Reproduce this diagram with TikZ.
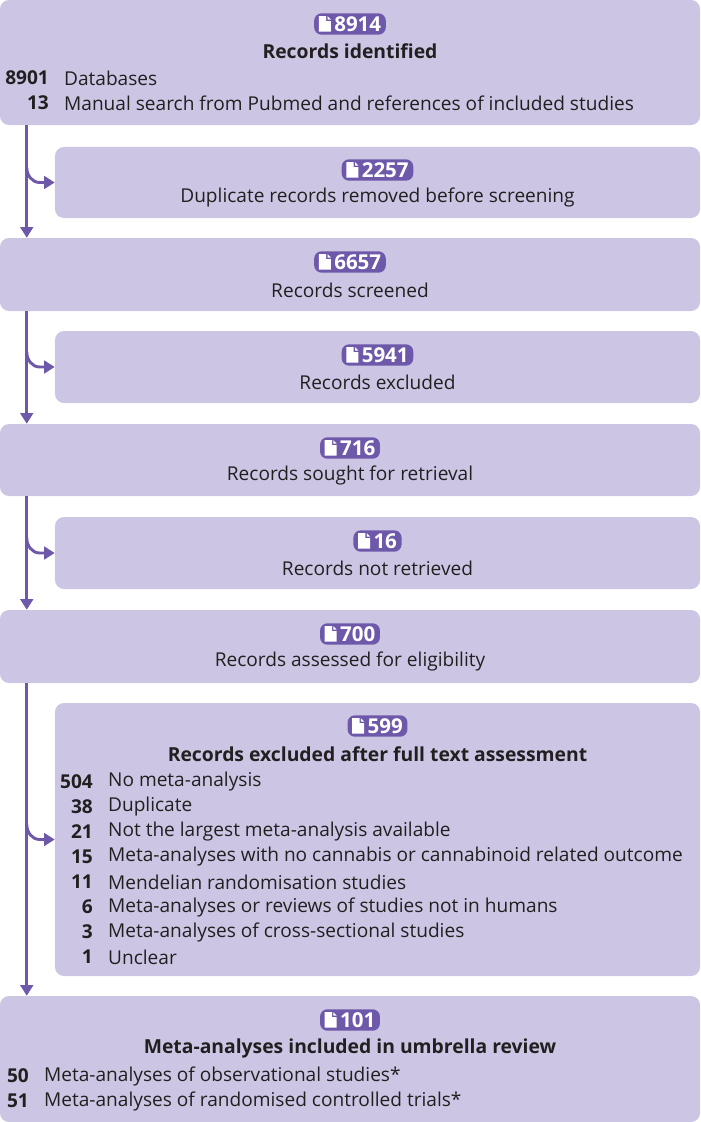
\documentclass[tikz,border=0pt]{standalone}
\usepackage{fontspec}
\setmainfont{Open Sans}
\usetikzlibrary{calc,arrows.meta}
\definecolor{boxfill}{RGB}{204,198,228}
\definecolor{badgefill}{RGB}{110,88,170}
\definecolor{txt}{RGB}{35,31,32}
\newsavebox{\docbox}
\savebox{\docbox}{\tikz[baseline=0pt]{\fill[white] (0,0) -- (0,0.46) -- (0.22,0.46) -- (0.22,0.31) -- (0.36,0.31) -- (0.36,0) -- cycle; \fill[white] (0.26,0.46) -- (0.36,0.36) -- (0.26,0.36) -- cycle;}}
\newcommand{\docicon}{\usebox{\docbox}}
\tikzset{
  mainbox/.style={fill=boxfill, rounded corners=0.27cm, minimum width=21cm, inner sep=0pt},
  sidebox/.style={fill=boxfill, rounded corners=0.27cm, minimum width=19.35cm, inner sep=0pt},
  badge/.style={fill=badgefill, text=white, rounded corners=0.22cm, inner xsep=4pt, inner ysep=2.5pt, font=\fontsize{17.5}{18}\selectfont\bfseries},
  title/.style={text=txt, font=\fontsize{16.5}{20}\selectfont\bfseries},
  plain/.style={text=txt, font=\fontsize{16.3}{20}\selectfont},
  num/.style={text=txt, anchor=east, font=\fontsize{16.3}{20}\selectfont\bfseries},
  item/.style={text=txt, anchor=west, font=\fontsize{16.3}{20}\selectfont},
  flow/.style={draw=badgefill, line width=2.5pt, -{Triangle[length=0.32cm,width=0.38cm]}}
}
\begin{document}
\begin{tikzpicture}[x=0.03cm, y=-0.03cm]
\useasboundingbox (0,0) rectangle (700,1122);

% Boxes
\node[mainbox, minimum height=3.75cm] (ident) at (350,62.5) {};
\node[sidebox, minimum height=2.13cm] (dupl) at (377.5,182.5) {};
\node[mainbox, minimum height=2.19cm] (screen) at (350,274.5) {};
\node[sidebox, minimum height=2.16cm] (excl) at (377.5,367) {};
\node[mainbox, minimum height=2.16cm] (sought) at (350,460) {};
\node[sidebox, minimum height=2.16cm] (notret) at (377.5,553) {};
\node[mainbox, minimum height=2.19cm] (assess) at (350,646.5) {};
\node[sidebox, minimum height=8.19cm] (fulltxt) at (377.5,839.5) {};
\node[mainbox, minimum height=3.78cm] (incl) at (350,1059) {};

% Records identified
\node[badge] (b-ident) at (350,24) {\docicon\,8914};
\node[title] (t-ident) at (350,51) {Records identified};
\node[num] at (53,78) {8901};
\node[item] at (60,78) {Databases};
\node[num] at (53,103) {13};
\node[item] at (60,103) {Manual search from Pubmed and references of included studies};

% Single line boxes
\node[badge] (b-dupl) at (377.5,170) {\docicon\,2257};
\node[plain] (t-dupl) at (377.5,197) {Duplicate records removed before screening};
\node[badge] (b-screen) at (350,262) {\docicon\,6657};
\node[plain] (t-screen) at (350,290) {Records screened};
\node[badge] (b-excl) at (377.5,355) {\docicon\,5941};
\node[plain] (t-excl) at (377.5,382) {Records excluded};
\node[badge] (b-sought) at (350,448) {\docicon\,716};
\node[plain] (t-sought) at (350,475) {Records sought for retrieval};
\node[badge] (b-notret) at (377.5,541) {\docicon\,16};
\node[plain] (t-notret) at (377.5,568) {Records not retrieved};
\node[badge] (b-assess) at (350,634) {\docicon\,700};
\node[plain] (t-assess) at (350,661) {Records assessed for eligibility};

% Full text exclusions
\node[badge] (b-full) at (377.5,726) {\docicon\,599};
\node[title] (t-full) at (377.5,754) {Records excluded after full text assessment};
\foreach \n/\lab [count=\i from 0] in {504/No meta-analysis, 38/Duplicate, 21/Not the largest meta-analysis available,
    15/Meta-analyses with no cannabis or cannabinoid related outcome, 11/Mendelian randomisation studies,
    6/Meta-analyses or reviews of studies not in humans, 3/Meta-analyses of cross-sectional studies, 1/Unclear}{
  \node[num] at (97,782+25*\i) {\n};
  \node[item] at (104,782+25*\i) {\lab};
}

% Included
\node[badge] (b-incl) at (350,1020) {\docicon\,101};
\node[title] (t-incl) at (350,1048) {Meta-analyses included in umbrella review};
\node[num] at (33,1076) {50};
\node[item] at (40,1076) {Meta-analyses of observational studies*};
\node[num] at (33,1101) {51};
\node[item] at (40,1101) {Meta-analyses of randomised controlled trials*};

% Flow
\draw[flow] ($(ident.south west)+(27,0)$) -- ($(screen.north west)+(27,0)$);
\draw[flow] ($(screen.south west)+(27,0)$) -- ($(sought.north west)+(27,0)$);
\draw[flow] ($(sought.south west)+(27,0)$) -- ($(assess.north west)+(27,0)$);
\draw[flow] ($(assess.south west)+(27,0)$) -- ($(incl.north west)+(27,0)$);
\foreach \side in {dupl, excl, notret, fulltxt}{
  \draw[flow] ($(\side.west)+(-28,-15)$) to[out=-90,in=180] ($(\side.west)+(-15,0)$) -- (\side.west);
}
\end{tikzpicture}
\end{document}
